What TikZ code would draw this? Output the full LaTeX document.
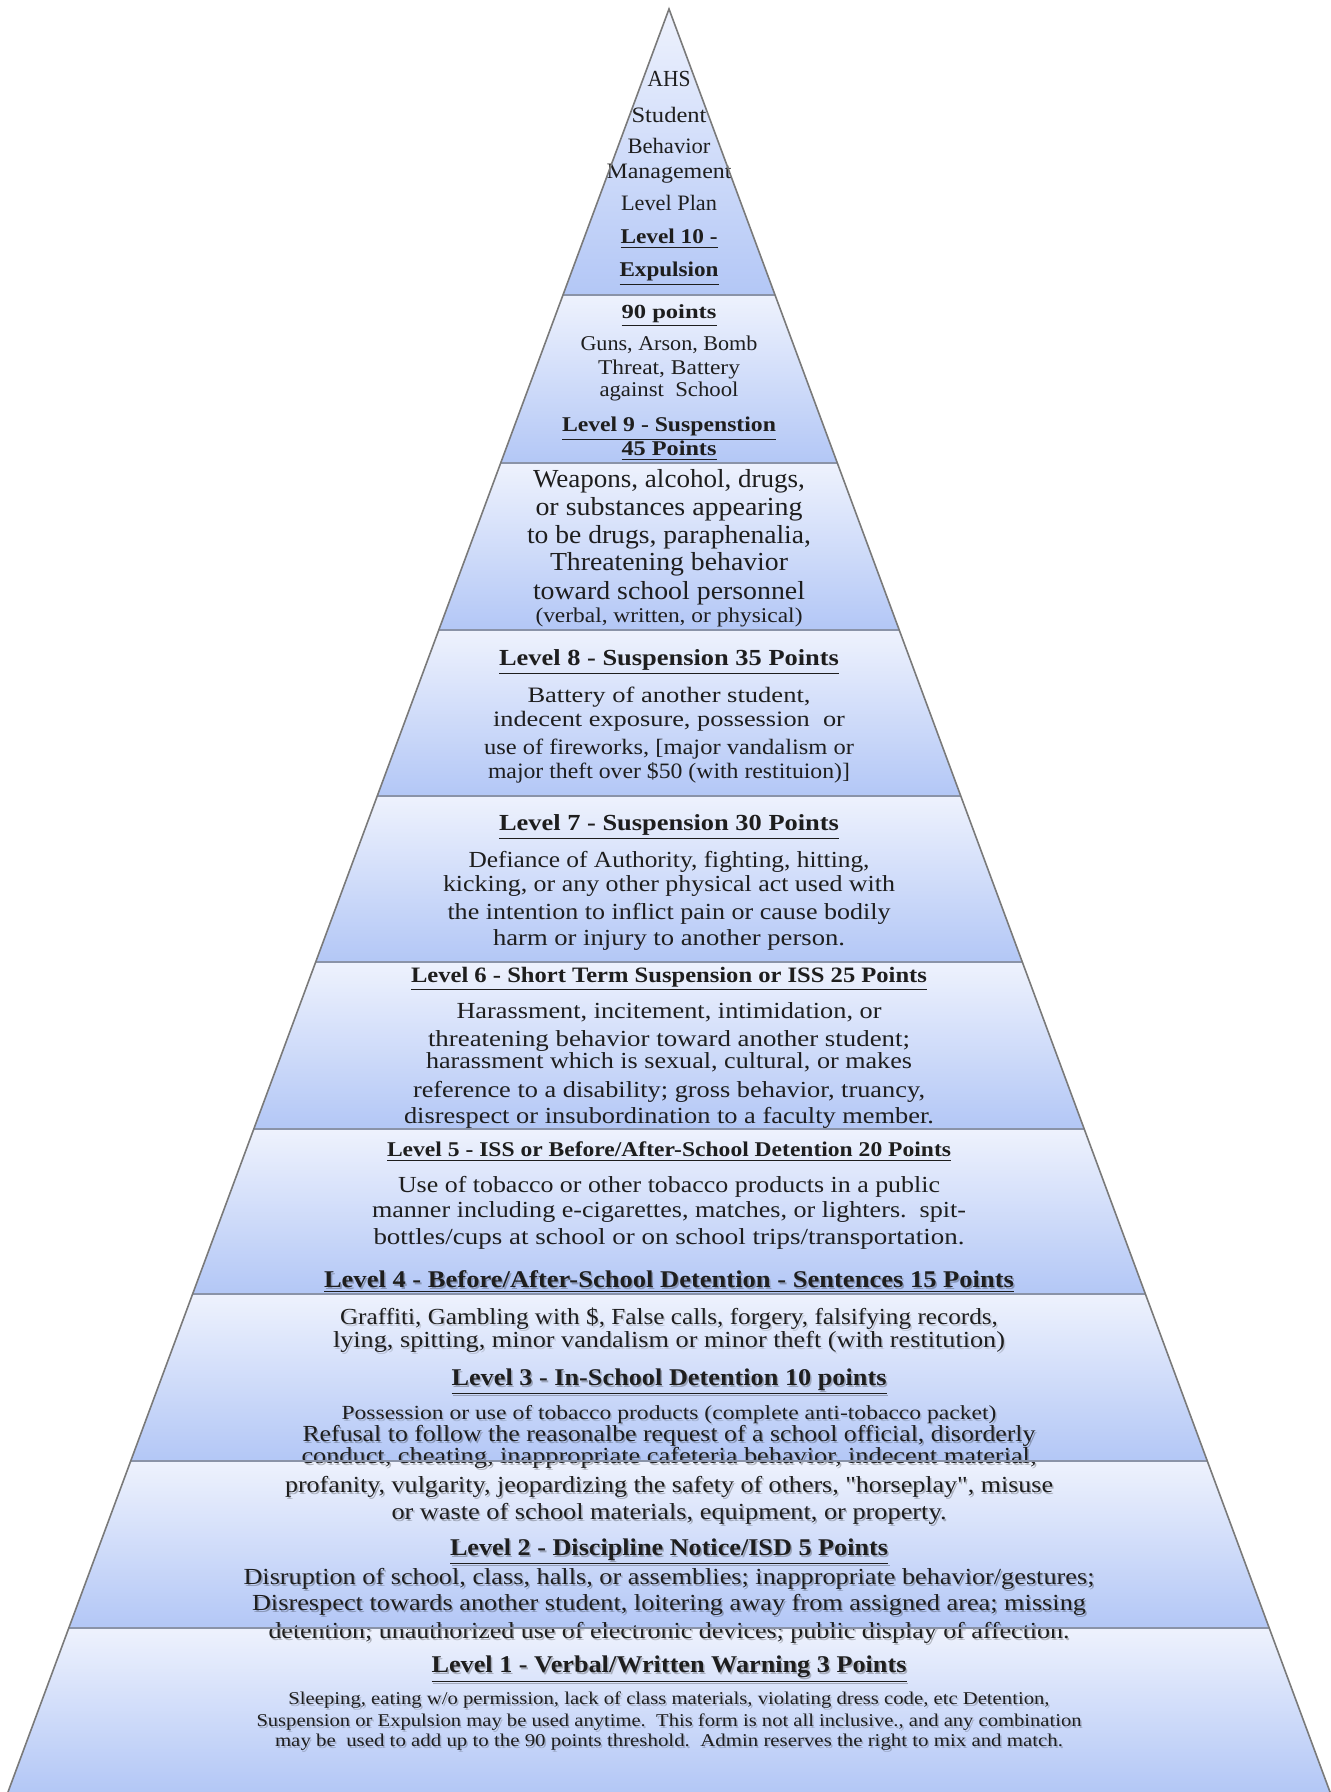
\documentclass[tikz,border=0pt]{standalone}
\usepackage{fontspec}
\setmainfont{Liberation Serif}
\usepackage{graphicx}
\definecolor{bandtop}{HTML}{EEF2FD}
\definecolor{bandbot}{HTML}{B3C7F6}
\definecolor{edge}{HTML}{7A7A7A}
\definecolor{sep}{HTML}{8A93A8}
\definecolor{ink}{HTML}{1E1E1E}
\newsavebox\linebox
\newcommand\hd[1]{\textbf{\underline{#1}}}
% #1 font size (px), #2 width (px), #3 text
\newcommand\fitbox[3]{%
  \pgfmathsetmacro\fsz{#1/2}%
  \sbox\linebox{\fontsize{\fsz pt}{\fsz pt}\selectfont #3}%
  \edef\wdl{\the\wd\linebox}%
  \pgfmathsetmacro\sxf{(#2/2)/\wdl}%
  \scalebox{\sxf}[1]{\usebox\linebox}}
% #1 shadow opacity, #2 name, #3 centre y (px), #4 font size (px), #5 width (px), #6 text
\newcommand\txl[6][0]{%
  \ifdim #1pt>0pt
    \node[txt,text=black,opacity=#1] (#2s) at ({670.5},{#3+0.33*#4+2}) {\fitbox{#4}{#5}{#6}};
  \fi
  \node[txt] (#2) at ({669},{#3+0.33*#4}) {\fitbox{#4}{#5}{#6}};
}
\begin{document}
\begin{tikzpicture}[x=0.5pt,y=-0.5pt,
  txt/.style={anchor=base,inner sep=0pt,text=ink}]
\useasboundingbox (0,0) rectangle (1331,1792);
% bands
\foreach \ya/\yb in {9/295,295/463,463/630,630/796,796/962,962/1129,1129/1294,1294/1461,1461/1628,1628/1792}{
  \pgfmathsetmacro\la{669-0.3707*(\ya-9)}
  \pgfmathsetmacro\ra{669+0.3707*(\ya-9)}
  \pgfmathsetmacro\lb{669-0.3707*(\yb-9)}
  \pgfmathsetmacro\rb{669+0.3707*(\yb-9)}
  \shade[top color=bandtop,bottom color=bandbot] (\la,\ya) -- (\ra,\ya) -- (\rb,\yb) -- (\lb,\yb) -- cycle;
}
% Level 10
\txl{ahs}{79}{23}{43}{AHS}
\txl{stu}{115}{22}{75}{Student}
\txl{beh}{146}{22}{83}{Behavior}
\txl{mgt}{171}{22}{125}{Management}
\txl{lp}{203}{22}{96}{Level Plan}
\txl{lten}{237}{21}{97}{\hd{Level 10 -}}
\txl{expl}{270}{21}{99}{\hd{Expulsion}}
% Level 9
\txl{pninety}{312}{20}{95}{\hd{90 points}}
\txl{gua}{344}{21}{177}{Guns, Arson, Bomb}
\txl{gub}{368}{21}{142}{Threat, Battery}
\txl{guc}{390}{21}{139}{against\ \ School}
\txl{lnine}{425}{21}{214}{\hd{Level 9 - Suspenstion}}
\txl{pff}{449}{21}{95}{\hd{45 Points}}
% weapons
\txl{wa}{479}{26}{272}{Weapons, alcohol, drugs,}
\txl{wb}{507}{26}{267}{or substances appearing}
\txl{wc}{535}{26}{284}{to be drugs, paraphenalia,}
\txl{wd}{562}{26}{238}{Threatening behavior}
\txl{we}{591}{26}{272}{toward school personnel}
\txl{wf}{616}{21}{267}{(verbal, written, or physical)}
% Level 8
\txl{leight}{658}{23}{340}{\hd{Level 8 - Suspension 35 Points}}
\txl{ba}{695}{22}{283}{Battery of another student,}
\txl{bb}{719}{22}{352}{indecent exposure, possession\ \ or}
\txl{bc}{747}{22}{370}{use of fireworks, [major vandalism or}
\txl{bd}{771}{22}{362}{major theft over \$50 (with restituion)]}
% Level 7
\txl{lseven}{823}{23}{340}{\hd{Level 7 - Suspension 30 Points}}
\txl{da}{860}{23}{401}{Defiance of Authority, fighting, hitting,}
\txl{db}{884}{23}{452}{kicking, or any other physical act used with}
\txl{dc}{912}{23}{443}{the intention to inflict pain or cause bodily}
\txl{dd}{938}{23}{352}{harm or injury to another person.}
% Level 6
\txl{lsix}{975}{22}{516}{\hd{Level 6 - Short Term Suspension or ISS 25 Points}}
\txl{ha}{1011}{23}{425}{Harassment, incitement, intimidation, or}
\txl{hb}{1039}{23}{482}{threatening behavior toward another student;}
\txl{hc}{1061}{23}{486}{harassment which is sexual, cultural, or makes}
\txl{hdd}{1090}{23}{512}{reference to a disability; gross behavior, truancy,}
\txl{he}{1116}{23}{530}{disrespect or insubordination to a faculty member.}
% Level 5
\txl{lfive}{1150}{21}{564}{\hd{Level 5 - ISS or Before/After-School Detention 20 Points}}
\txl{ua}{1185}{23}{542}{Use of tobacco or other tobacco products in a public}
\txl{ub}{1210}{23}{594}{manner including e-cigarettes, matches, or lighters.\ \ spit-}
\txl{uc}{1237}{23}{591}{bottles/cups at school or on school trips/transportation.}
\txl[0.25]{lfour}{1280}{24}{690}{\hd{Level 4 - Before/After-School Detention - Sentences 15 Points}}
% Level 4 / 3
\txl[0.15]{gra}{1317}{23}{658}{Graffiti, Gambling with \$, False calls, forgery, falsifying records,}
\txl[0.15]{grb}{1340}{23}{672}{lying, spitting, minor vandalism or minor theft (with restitution)}
\txl[0.25]{lthree}{1378}{24}{435}{\hd{Level 3 - In-School Detention 10 points}}
\txl[0.15]{pos}{1413}{20}{655}{Possession or use of tobacco products (complete anti-tobacco packet)}
\txl[0.25]{ra}{1434}{23}{733}{Refusal to follow the reasonalbe request of a school official, disorderly}
\txl[0.25]{rb}{1456}{23}{735}{conduct, cheating, inappropriate cafeteria behavior, indecent material,}
% Level 2
\txl[0.25]{pa}{1485}{23}{768}{profanity, vulgarity, jeopardizing the safety of others, \textquotedbl horseplay\textquotedbl, misuse}
\txl[0.25]{pb}{1512}{23}{555}{or waste of school materials, equipment, or property.}
\txl[0.25]{ltwo}{1548}{24}{438}{\hd{Level 2 - Discipline Notice/ISD 5 Points}}
\txl[0.25]{disa}{1577}{23}{851}{Disruption of school, class, halls, or assemblies; inappropriate behavior/gestures;}
\txl[0.25]{disb}{1603}{23}{834}{Disrespect towards another student, loitering away from assigned area; missing}
\txl[0.25]{disc}{1631}{23}{801}{detention; unauthorized use of electronic devices; public display of affection.}
% Level 1
\txl[0.25]{lone}{1665}{24}{475}{\hd{Level 1 - Verbal/Written Warning 3 Points}}
\txl[0.2]{sa}{1699}{18}{761}{Sleeping, eating w/o permission, lack of class materials, violating dress code, etc Detention,}
\txl[0.2]{sb}{1721}{18}{825}{Suspension or Expulsion may be used anytime.\ \ This form is not all inclusive., and any combination}
\txl[0.2]{sc}{1741}{18}{788}{may be\ \ used to add up to the 90 points threshold.\ \ Admin reserves the right to mix and match.}
% separators
\foreach \y in {295,463,630,796,962,1129,1294,1461,1628}{
  \draw[sep,line width=1pt] ({669-0.3707*(\y-9)},\y) -- ({669+0.3707*(\y-9)},\y);
}
% outline
\draw[edge,line width=0.8pt,line join=miter] (8,1792) -- (669,9) -- (1330,1792);
\end{tikzpicture}
\end{document}
